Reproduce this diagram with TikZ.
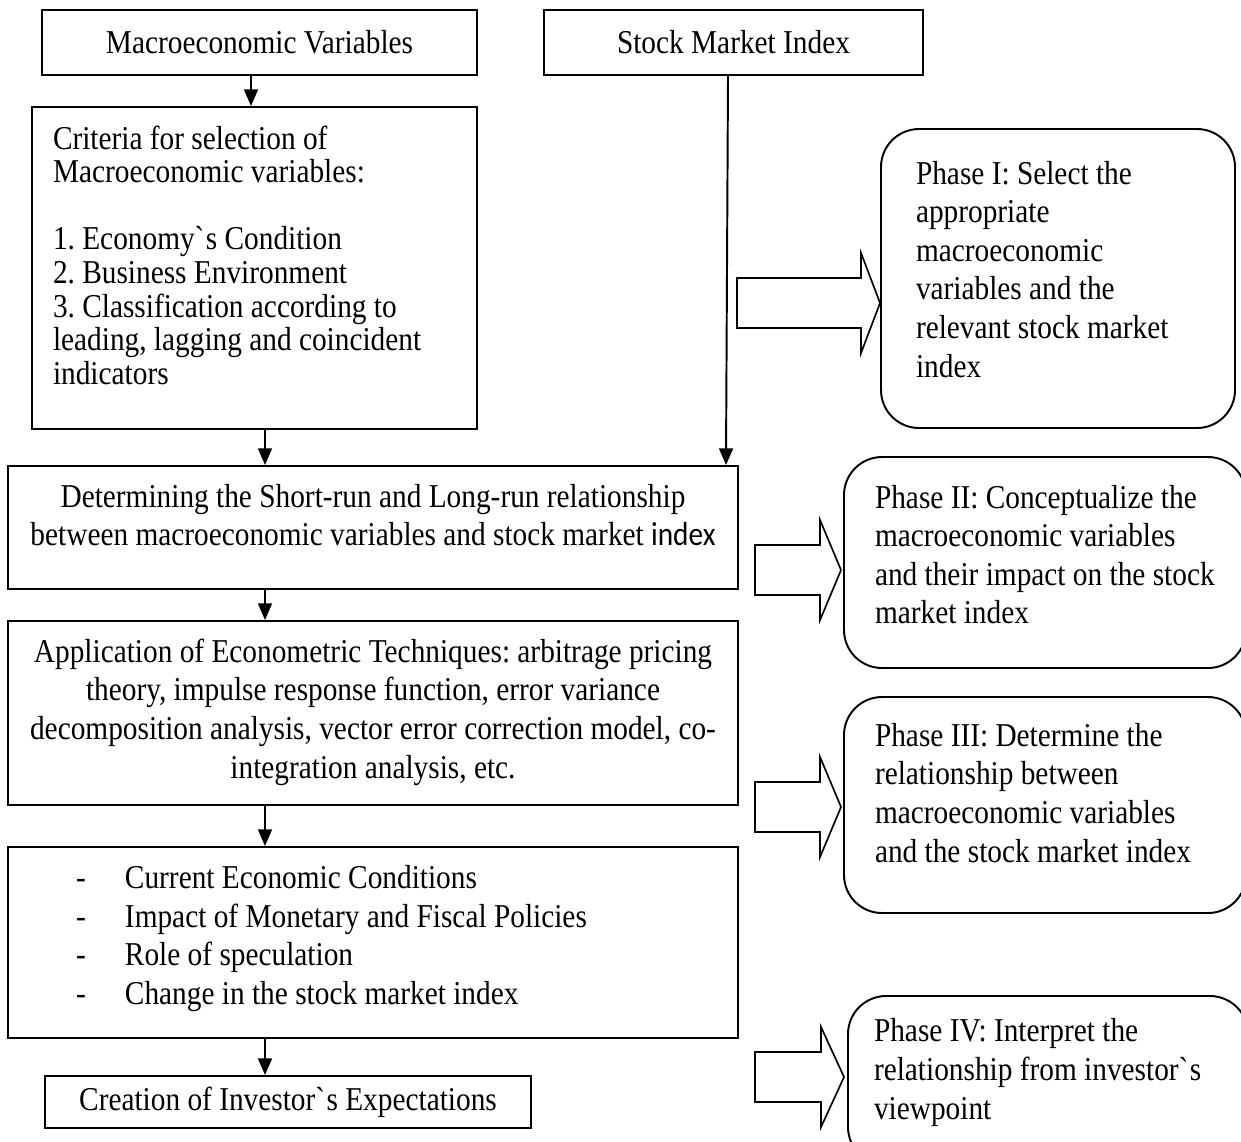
\documentclass[tikz,border=0pt]{standalone}
\usepackage{fontspec}
\setmainfont{Liberation Serif}[FakeStretch=0.88]
\newfontfamily\idxfont{Carlito}[FakeStretch=0.88]
\usetikzlibrary{calc,arrows.meta}
\newlength\unitpx
\setlength\unitpx{0.36pt}
\newcommand\phasearrow[2]{% length, head length
  -- ++(-#2,-50) -- ++(0,25) -- ++(#2-#1,0) -- ++(0,50)
  -- ++(#1-#2,0) -- ++(0,25) -- cycle
}
\newcommand\pad[1]{\rule[-#1\unitpx]{0pt}{#1\unitpx}}
\frenchspacing

\begin{document}
\begin{tikzpicture}[x=0.36pt, y=-0.36pt,
  every node/.style={font=\fontsize{12}{13.9}\selectfont},
  box/.style={draw, line width=0.7pt, inner sep=0pt, align=center},
  phase/.style={draw, line width=0.7pt, rounded corners=13.7pt, inner ysep=0pt, align=flush left},
  flow/.style={line width=0.7pt, -{Triangle[length=6pt,width=5pt]}},
  blockarrow/.style={draw, line width=0.6pt}]
\useasboundingbox (0,0) rectangle (1241,1141);
\coordinate (spine) at (265,0);
\node[box, minimum width=435\unitpx, minimum height=65\unitpx] (macro) at (259.5,42.5) {Macroeconomic Variables};
\node[box, minimum width=379\unitpx, minimum height=65\unitpx] (stock) at (733.5,42.5) {Stock Market Index};
\node[box, align=flush left, inner xsep=21\unitpx, text width=403\unitpx, minimum height=322\unitpx,
  font=\fontsize{12}{12.1}\selectfont] (crit) at (254.5,268)
  {Criteria for selection of\\Macroeconomic variables:\\[12.1pt]1. Economy\textasciigrave s Condition\\2. Business Environment\\3. Classification according to\\leading, lagging and coincident\\indicators\pad{26}};
\node[box, minimum width=730\unitpx, minimum height=123\unitpx] (determ) at (373,527.5)
  {Determining the Short-run and Long-run relationship\\between macroeconomic variables and stock market {\idxfont index}\pad{25}};
\node[box, minimum width=730\unitpx, minimum height=184\unitpx] (app) at (373,713)
  {Application of Econometric Techniques: arbitrage pricing\\theory, impulse response function, error variance\\decomposition analysis, vector error correction model, co-\\integration analysis, etc.\pad{9}};
\node[box, align=flush left, inner xsep=68\unitpx, text width=594\unitpx, minimum height=191\unitpx] (bullets) at (373,942.5)
  {\makebox[49\unitpx][l]{-}Current Economic Conditions\\\makebox[49\unitpx][l]{-}Impact of Monetary and Fiscal Policies\\\makebox[49\unitpx][l]{-}Role of speculation\\\makebox[49\unitpx][l]{-}Change in the stock market index\pad{15}};
\node[box, minimum width=486\unitpx, minimum height=52\unitpx] (creation) at (288,1102) {Creation of Investor\textasciigrave s Expectations};
%
%
%
%
\node[phase, inner xsep=35\unitpx, text width=284\unitpx, minimum height=299\unitpx] (phaseI) at (1058,278.5)
  {Phase I: Select the\\appropriate\\macroeconomic\\variables and the\\relevant stock market\\index\pad{19}};
\node[phase, inner xsep=31\unitpx, text width=340\unitpx, minimum height=211\unitpx] (phaseII) at (1045,562.5)
  {Phase II: Conceptualize the\\macroeconomic variables\\and their impact on the stock\\market index\pad{16}};
\node[phase, inner xsep=31\unitpx, text width=340\unitpx, minimum height=216\unitpx] (phaseIII) at (1045,805)
  {Phase III: Determine the\\relationship between\\macroeconomic variables\\and the stock market index\pad{25}};
\node[phase, inner xsep=26\unitpx, text width=348\unitpx, minimum height=169\unitpx] (phaseIV) at (1048,1080.5)
  {Phase IV: Interpret the\\relationship from investor\textasciigrave s\\viewpoint\pad{23}};
%
%
%
%
\draw[flow] ($(macro.south)+(-8.5,0)$) -- ($(crit.north)+(-3.5,0)$);
\draw[flow] ($(stock.south)+(-5.5,0)$) -- ($(determ.north east)+(-13,0)$);
\draw[flow] (crit.south -| spine) -- (determ.north -| spine);
\draw[flow] (determ.south -| spine) -- (app.north -| spine);
\draw[flow] (app.south -| spine) -- (bullets.north -| spine);
\draw[flow] (bullets.south -| spine) -- (creation.north -| spine);
\draw[blockarrow] ($(phaseI.west)+(0,24.5)$) \phasearrow{143}{19};
\draw[blockarrow] ($(phaseII.west)+(-2,7.5)$) \phasearrow{86}{21};
\draw[blockarrow] ($(phaseIII.west)+(-2,2)$) \phasearrow{86}{21};
\draw[blockarrow] ($(phaseIV.west)+(-3,-3.5)$) \phasearrow{89}{23};
%
%
%
%
\end{tikzpicture}
\end{document}
